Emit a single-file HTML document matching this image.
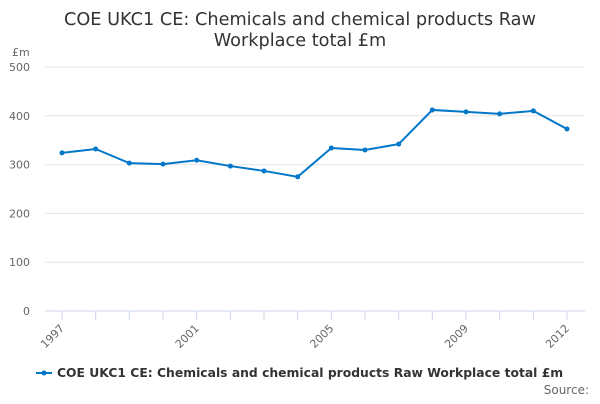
<!DOCTYPE html>
<html><head><meta charset="utf-8"><style>
body{margin:0;background:#fff;width:600px;height:400px;overflow:hidden;font-family:"DejaVu Sans","Liberation Sans",sans-serif}
</style></head><body>
<svg id="chart" width="600" height="400" font-family="DejaVu Sans, Liberation Sans, sans-serif">
<text x="300" y="25" text-anchor="middle" font-size="17.7" fill="#333">COE UKC1 CE: Chemicals and chemical products Raw</text>
<text x="300" y="46" text-anchor="middle" font-size="17.7" fill="#333">Workplace total £m</text>
<text x="12" y="56" font-size="11" fill="#666">£m</text>
<g id="grid"></g><g id="xaxis"></g><g id="series"></g>
<g>
<line x1="36" y1="373" x2="52" y2="373" stroke="#0077c8" stroke-width="2"/>
<circle cx="44" cy="373" r="2.5" fill="#0077c8"/>
<text x="57" y="377" font-size="12.35" font-weight="bold" fill="#333">COE UKC1 CE: Chemicals and chemical products Raw Workplace total £m</text>
</g>
<text x="589" y="394" text-anchor="end" font-size="12" fill="#666">Source:</text>
</svg>
<script>
const years=[1997,1998,1999,2000,2001,2002,2003,2004,2005,2006,2007,2008,2009,2010,2011,2012];
const values=[324,332,303,301,309,297,287,275,334,330,342,412,408,404,410,373];
const yTicks=[0,100,200,300,400,500];
const xTickLabels=[1997,2001,2005,2009,2012];
const NS="http://www.w3.org/2000/svg";
const x=v=>62+(v-1997)*(505/15);
const y=v=>311-v*0.488;
function mk(tag,attrs,parent){const e=document.createElementNS(NS,tag);for(const k in attrs)e.setAttribute(k,attrs[k]);parent.appendChild(e);return e;}
const grid=document.getElementById('grid');
yTicks.forEach(t=>{
 const l=mk('line',{x1:45,x2:585,y1:y(t),y2:y(t),stroke:t===0?'#ccd6eb':'#e6e6e6','stroke-width':1},grid);
 
 
 const tx=mk('text',{x:30,y:y(t)+4,'text-anchor':'end','font-size':11,fill:'#666'},grid);
 tx.textContent=t;
 
 
});
const xa=document.getElementById('xaxis');
years.forEach(yr=>{
 const tk=mk('line',{x1:x(yr),x2:x(yr),y1:311,y2:320,stroke:'#ccd6eb'},xa);
 
 
});
xTickLabels.forEach(yr=>{
 const tx=mk('text',{x:x(yr)+3,y:329,'text-anchor':'end','font-size':11,fill:'#666',transform:`rotate(-45 ${x(yr)+3} 329)`},xa);
 tx.textContent=yr;
 
 
});
const s=document.getElementById('series');
const path=mk('path',{d:years.map((yr,i)=>(i?'L':'M')+x(yr)+','+y(values[i])).join(''),fill:'none',stroke:'#0077c8','stroke-width':2},s);


years.forEach((yr,i)=>{
 const c=mk('circle',{cx:x(yr),cy:y(values[i]),r:2.5,fill:'#0077c8'},s);
 
 
});
</script>
</body></html>
